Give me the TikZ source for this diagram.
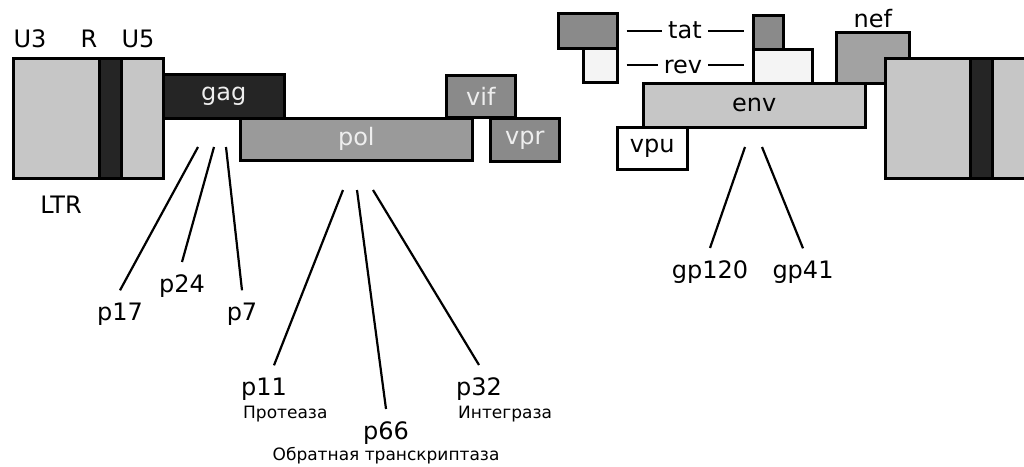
\documentclass[tikz,border=0pt]{standalone}
\usepackage{fontspec}
\setmainfont{DejaVu Sans}
\usetikzlibrary{positioning,calc}
\definecolor{ltrgray}{HTML}{C6C6C6}
\definecolor{darkband}{HTML}{252525}
\definecolor{polgray}{HTML}{9A9A9A}
\definecolor{midgray}{HTML}{8A8A8A}
\definecolor{nefgray}{HTML}{A2A2A2}
\definecolor{pale}{HTML}{F4F4F4}
\definecolor{boxtext}{HTML}{EEEEEE}
\newcommand{\lblfont}{\fontsize{24}{28}\selectfont}
\newcommand{\subfont}{\fontsize{17}{20}\selectfont}

\begin{document}
\begin{tikzpicture}[x=1pt, y=-1pt,
  gene/.style={draw, line width=2.6pt, inner sep=0pt, anchor=north west, font=\lblfont},
  lbl/.style={font=\lblfont, inner xsep=0pt, inner ysep=12pt, anchor=base},
  sub/.style={font=\subfont, inner sep=0pt, anchor=base west},
  cut/.style={line width=2.2pt}]
  \useasboundingbox (0,0) rectangle (1024,466);

  % 5' LTR
  \node[gene, fill=ltrgray, minimum width=86, minimum height=120] (u3) at (12,57) {};
  \node[gene, fill=darkband, minimum width=22, minimum height=120] (r) at (98,57) {};
  \node[gene, fill=ltrgray, minimum width=42, minimum height=120] (u5) at (120,57) {};
  \node[font=\lblfont, anchor=base] (lu3) at (30,47) {U3};
  \node[font=\lblfont, anchor=base] (lr) at (89,47) {R};
  \node[font=\lblfont, anchor=base] (lu5) at (138,47) {U5};
  \node[font=\lblfont, anchor=base] (ltr) at (61,213) {LTR};

  % gag, pol, vif, vpr
  \node[gene, fill=darkband, text=boxtext, minimum width=121, minimum height=44] (gag) at (162,73) {gag};
  \node[gene, fill=polgray, text=boxtext, minimum width=232, minimum height=42] (pol) at (239,117) {pol};
  \node[gene, fill=midgray, text=boxtext, minimum width=69, minimum height=42] (vif) at (445,74) {vif};
  \node[gene, fill=midgray, text=boxtext, minimum width=69, minimum height=43] (vpr) at (489,117) {vpr};

  % tat / rev exons
  \node[gene, fill=midgray, minimum width=59, minimum height=35] (tatA) at (557,12) {};
  \node[gene, fill=pale, minimum width=34, minimum height=34] (revA) at (582,47) {};
  \node[gene, fill=midgray, minimum width=30, minimum height=34] (tatB) at (752,14) {};
  \node[gene, fill=pale, minimum width=59, minimum height=34] (revB) at (752,48) {};
  \node[font=\lblfont, anchor=base, inner xsep=6pt] (tat) at (685,38) {tat};
  \node[font=\lblfont, anchor=base, inner xsep=6pt] (rev) at (683,73) {rev};
  \draw[cut, shorten <=8pt] (tatA.east) -- (tatA.east -| tat.west);
  \draw[cut, shorten >=8pt] (tat.east |- tatA.east) -- (tatA.east -| tatB.west);
  \draw[cut, shorten <=8pt] (revA.east) -- (revA.east -| rev.west);
  \draw[cut, shorten >=8pt] (rev.east |- revA.east) -- (revA.east -| revB.west);

  % nef, env, vpu
  \node[gene, fill=nefgray, minimum width=73, minimum height=51] (nef) at (835,31) {};
  \node[font=\lblfont, inner sep=0pt, above=3pt of nef] (neflbl) {nef};
  \node[gene, fill=ltrgray, minimum width=222, minimum height=44] (env) at (642,82) {env};
  \node[gene, fill=white, minimum width=70, minimum height=42] (vpu) at (616,126) {vpu};

  % 3' LTR
  \node[gene, fill=ltrgray, minimum width=85, minimum height=120] (u3b) at (884,57) {};
  \node[gene, fill=darkband, minimum width=22, minimum height=120] (rb) at (969,57) {};
  \node[gene, fill=ltrgray, minimum width=43, minimum height=120] (u5b) at (991,57) {};

  % gag products
  \coordinate (c17) at (198,147);
  \coordinate (c24) at (214,147);
  \coordinate (c7) at (226,147);
  \node[lbl] (p17) at (120,320) {p17};
  \node[lbl] (p24) at (182,292) {p24};
  \node[lbl] (p7) at (242,320) {p7};
  \draw[cut] (c17) -- (p17.north);
  \draw[cut] (c24) -- (p24.north);
  \draw[cut] (c7) -- (p7.north);

  % pol products
  \coordinate (c11) at (343,190);
  \coordinate (c66) at (357,190);
  \coordinate (c32) at (373,190);
  \node[lbl] (p11) at (264,395) {p11};
  \node[sub] (prot) at (243,418) {Протеаза};
  \node[lbl] (p66) at (386,439) {p66};
  \node[sub, anchor=base] (rt) at (386,460) {Обратная транскриптаза};
  \node[lbl] (p32) at (479,395) {p32};
  \node[sub] (integ) at (458,418) {Интеграза};
  \draw[cut] (c11) -- ([xshift=10pt]p11.north);
  \draw[cut] (c66) -- (p66.north);
  \draw[cut] (c32) -- (p32.north);

  % env products
  \coordinate (c120) at (745,147);
  \coordinate (c41) at (762,147);
  \node[lbl] (gp120) at (710,278) {gp120};
  \node[lbl] (gp41) at (803,278) {gp41};
  \draw[cut] (c120) -- (gp120.north);
  \draw[cut] (c41) -- (gp41.north);
\end{tikzpicture}
\end{document}
